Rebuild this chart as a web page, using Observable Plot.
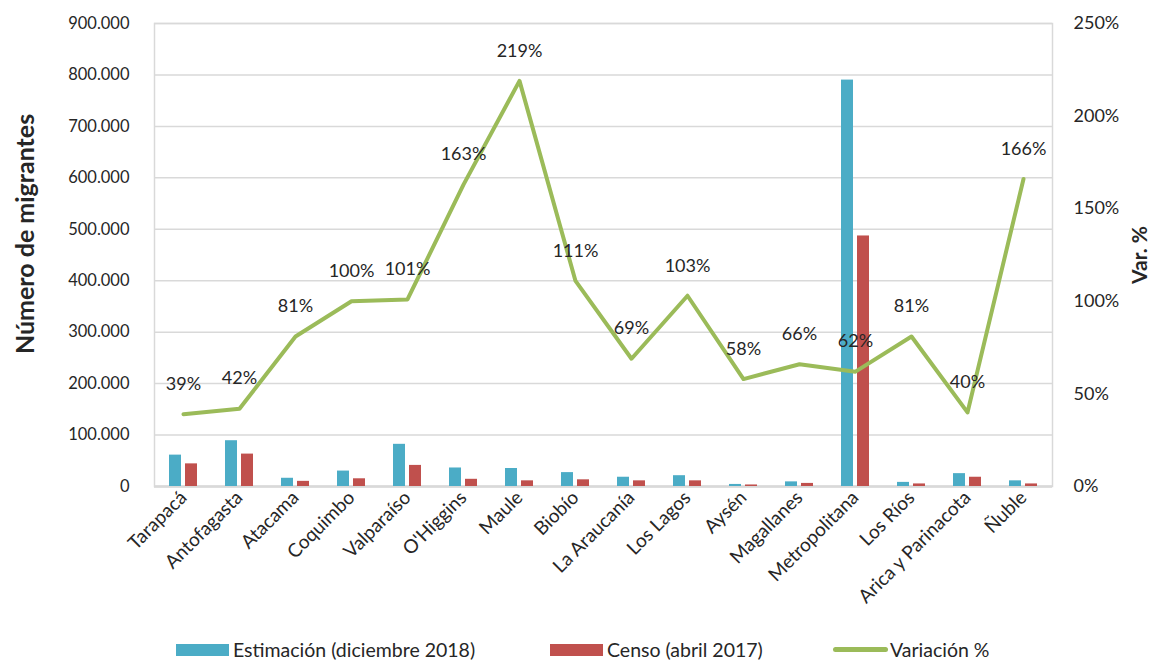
<!DOCTYPE html>
<html>
<head>
<meta charset="utf-8">
<script src="https://cdn.jsdelivr.net/npm/d3@7"></script>
<script src="https://cdn.jsdelivr.net/npm/@observablehq/plot@0.6"></script>
<style>
  body { margin: 0; background: #fff; font-family: Lato, "Open Sans", sans-serif; }
  #wrap { position: relative; width: 1153px; height: 662px; overflow: hidden; }
  .leg { position: absolute; top: 639px; height: 21px; line-height: 21px; display: flex; align-items: center; font-size: 19.5px; color: #262626; white-space: nowrap; }
  .sw { display: inline-block; width: 53px; height: 12px; margin-right: 4px; }
  .ln { display: inline-block; width: 55px; height: 5px; border-radius: 3px; margin-right: 2px; background: #9bbb59; }
</style>
</head>
<body>
<div id="wrap">
  <div id="chart"></div>
  <div class="leg" style="left:176px"><span class="sw" style="background:#4bacc6"></span>Estimación (diciembre 2018)</div>
  <div class="leg" style="left:550px"><span class="sw" style="background:#c0504d"></span>Censo (abril 2017)</div>
  <div class="leg" style="left:833px"><span class="ln"></span>Variación %</div>
</div>
<script>
const regions = ["Tarapacá","Antofagasta","Atacama","Coquimbo","Valparaíso","O'Higgins","Maule","Biobío","La Araucanía","Los Lagos","Aysén","Magallanes","Metropolitana","Los Ríos","Arica y Parinacota","Ñuble"];
const estimacion = [61000, 89000, 16000, 30000, 82000, 36000, 35000, 27000, 18000, 21000, 4000, 9000, 790000, 8000, 25000, 11000];
const censo = [44000, 63000, 10000, 15000, 41000, 14000, 11000, 13000, 11000, 11000, 3000, 6000, 487000, 5000, 18000, 5000];
const variacion = [39, 42, 81, 100, 101, 163, 219, 111, 69, 103, 58, 66, 62, 81, 40, 166];
const leftTicks = [0, 100000, 200000, 300000, 400000, 500000, 600000, 700000, 800000, 900000];
const rightTicks = [0, 50, 100, 150, 200, 250];

const leftMax = 900000, rightMax = 250;
const k = leftMax / rightMax; // maps % onto the left scale

const loc = d3.formatLocale({decimal: ",", thousands: ".", grouping: [3], currency: ["", ""]});
const fmt = loc.format(",");

const rows = regions.map((r, i) => ({region: r, est: estimacion[i], cen: censo[i], v: variacion[i]}));

const chart = Plot.plot({
  width: 1153,
  height: 632,
  marginLeft: 154,
  marginRight: 101,
  marginTop: 23,
  marginBottom: 146,
  style: {fontFamily: "Lato, 'Open Sans', sans-serif", fontSize: "17px", color: "#262626", background: "#fff", overflow: "visible"},
  x: {domain: regions, padding: 0, label: null},
  y: {domain: [0, leftMax], label: null},
  marks: [
    Plot.gridY(leftTicks, {stroke: "#d9d9d9", strokeOpacity: 1, strokeWidth: 1.5}),
    Plot.frame({stroke: "#d9d9d9", strokeWidth: 1.5}),
    Plot.ruleY([0], {stroke: "#d9d9d9", strokeWidth: 2.5}),
    Plot.barY(rows, {x: "region", y: "est", fill: "#4bacc6", insetLeft: 14, insetRight: 30}),
    Plot.barY(rows, {x: "region", y: "cen", fill: "#c0504d", insetLeft: 30, insetRight: 14}),
    Plot.line(rows, {x: "region", y: d => d.v * k, stroke: "#9bbb59", strokeWidth: 4, strokeLinejoin: "round"}),
    Plot.text(rows, {x: "region", y: d => d.v * k, text: d => d.v + "%", dy: -30, fontSize: 18, fill: "#262626"}),
    Plot.axisY({ticks: leftTicks, tickFormat: fmt, tickSize: 0, dx: -16, label: null, fontSize: 16.5}),
    Plot.axisY({anchor: "right", ticks: rightTicks.map(t => t * k), tickFormat: d => Math.round(d / k) + "%", tickSize: 0, tickPadding: 21, label: null, fontSize: 18}),
    Plot.axisX({tickRotate: -45, tickSize: 0, tickPadding: 8, label: null, fontSize: 19}),
    Plot.text(["Número de migrantes"], {frameAnchor: "left", dx: -129, dy: -21, rotate: -90, textAnchor: "middle", fontWeight: "bold", fontSize: 25, fill: "#262626"}),
    Plot.text(["Var. %"], {frameAnchor: "right", dx: 88, rotate: -90, textAnchor: "middle", fontWeight: "bold", fontSize: 21, fill: "#262626"})
  ]
});
document.getElementById("chart").appendChild(chart);
</script>
</body>
</html>
